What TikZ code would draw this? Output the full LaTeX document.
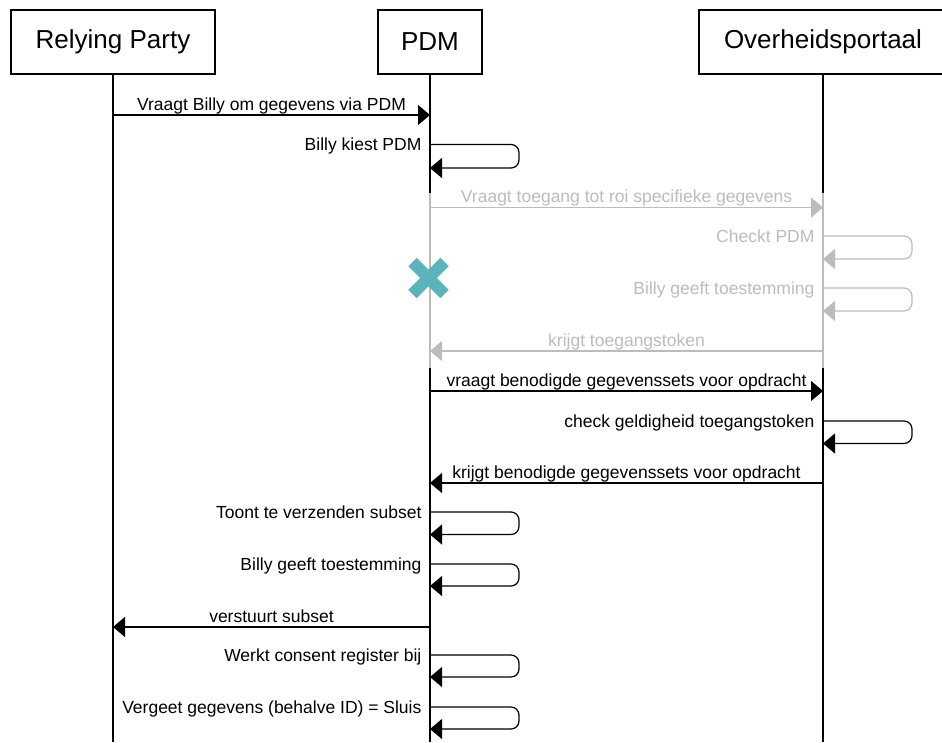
\documentclass[tikz,border=0pt]{standalone}
\usepackage{fontspec}
\setmainfont{Liberation Sans}
\usetikzlibrary{arrows.meta,calc}
\definecolor{faded}{HTML}{BCBCBC}
\definecolor{stopcol}{HTML}{5BB3BC}
\def\msgfont{\fontsize{17.5}{21}\selectfont}

\begin{document}
\begin{tikzpicture}[x=1pt, y=-1pt,
		actor/.style={draw, line width=1.2pt, minimum height=64pt, font=\fontsize{26}{31}\selectfont},
		life/.style={line width=1.2pt},
		msg/.style={line width=1.2pt, -{Triangle[length=12pt,width=20pt]}},
		selfmsg/.style={msg, rounded corners=8pt},
		lbl/.style={font=\msgfont, inner sep=0pt},
		midlbl/.style={lbl, anchor=base, yshift=5pt},
		looplbl/.style={lbl, anchor=base east, xshift=-8pt, yshift=-6pt},
		faint/.style={color=faded}]
			%%%%% START %%%%%
			\useasboundingbox (0,0) rectangle (942,742);
			
			\node[actor, minimum width=204pt] (rp) at (113,42) {Relying Party};
			\node[actor, minimum width=104pt] (pdm) at (430,42) {PDM};
			\node[actor, minimum width=248pt] (op) at (823,42) {Overheidsportaal};
			
			% lifelines
			\coordinate (rpend) at (113,742);
			\coordinate (pdmend) at (430,742);
			\coordinate (opend) at (823,742);
			\coordinate (pdmfa) at (430,193);
			\coordinate (pdmfb) at (430,368);
			\coordinate (opfa) at (823,193);
			\coordinate (opfb) at (823,368);
			\draw[life] (rp.south) -- (rpend);
			\draw[life] (pdm.south) -- (pdmfa);
			\draw[life, faint] (pdmfa) -- (pdmfb);
			\draw[life] (pdmfb) -- (pdmend);
			\draw[life] (op.south) -- (opfa);
			\draw[life, faint] (opfa) -- (opfb);
			\draw[life] (opfb) -- (opend);
			
			% messages
			\coordinate (rp1) at (113,115);
			\coordinate (pdm1) at (430,115);
			\draw[msg] (rp1) -- node[midlbl] {Vraagt Billy om gegevens via PDM} (pdm1);
			
			\coordinate (pdm2) at (430,144.5);
			\coordinate (pdm2r) at (430,168);
			\draw[selfmsg] (pdm2) node[looplbl] {Billy kiest PDM} -- ++(89,0) |- (pdm2r);
			
			% faded part
			\coordinate (pdm3) at (430,207.5);
			\coordinate (op3) at (823,207.5);
			\draw[msg, faint] (pdm3) -- node[midlbl] {Vraagt toegang tot roi specifieke gegevens} (op3);
			
			\coordinate (op4) at (823,236);
			\coordinate (op4r) at (823,259);
			\draw[selfmsg, faint] (op4) node[looplbl] {Checkt PDM} -- ++(89,0) |- (op4r);
			
			\coordinate (op5) at (823,288);
			\coordinate (op5r) at (823,311);
			\draw[selfmsg, faint] (op5) node[looplbl] {Billy geeft toestemming} -- ++(89,0) |- (op5r);
			
			\coordinate (op6) at (823,351);
			\coordinate (pdm6) at (430,351);
			\draw[msg, faint] (op6) -- node[midlbl] {krijgt toegangstoken} (pdm6);
			
			\coordinate (stop) at (428.5,278);
			\draw[stopcol, line width=12pt] ($(stop)+(-16,-16)$) -- ($(stop)+(16,16)$)
				($(stop)+(-16,16)$) -- ($(stop)+(16,-16)$);
			
			% back to normal
			\coordinate (pdm7) at (430,391);
			\coordinate (op7) at (823,391);
			\draw[msg] (pdm7) -- node[midlbl] {vraagt benodigde gegevenssets voor opdracht} (op7);
			
			\coordinate (op8) at (823,421);
			\coordinate (op8r) at (823,443.5);
			\draw[selfmsg] (op8) node[looplbl] {check geldigheid toegangstoken} -- ++(89,0) |- (op8r);
			
			\coordinate (op9) at (823,483);
			\coordinate (pdm9) at (430,483);
			\draw[msg] (op9) -- node[midlbl] {krijgt benodigde gegevenssets voor opdracht} (pdm9);
			
			\coordinate (pdm10) at (430,512);
			\coordinate (pdm10r) at (430,534.5);
			\draw[selfmsg] (pdm10) node[looplbl] {Toont te verzenden subset} -- ++(89,0) |- (pdm10r);
			
			\coordinate (pdm11) at (430,564);
			\coordinate (pdm11r) at (430,586);
			\draw[selfmsg] (pdm11) node[looplbl] {Billy geeft toestemming} -- ++(89,0) |- (pdm11r);
			
			\coordinate (pdm12) at (430,627);
			\coordinate (rp12) at (113,627);
			\draw[msg] (pdm12) -- node[midlbl] {verstuurt subset} (rp12);
			
			\coordinate (pdm13) at (430,655);
			\coordinate (pdm13r) at (430,677);
			\draw[selfmsg] (pdm13) node[looplbl] {Werkt consent register bij} -- ++(89,0) |- (pdm13r);
			
			\coordinate (pdm14) at (430,707);
			\coordinate (pdm14r) at (430,729);
			\draw[selfmsg] (pdm14) node[looplbl] {Vergeet gegevens (behalve ID) = Sluis} -- ++(89,0) |- (pdm14r);
			
			%%%%% END %%%%%
\end{tikzpicture}
\end{document}
